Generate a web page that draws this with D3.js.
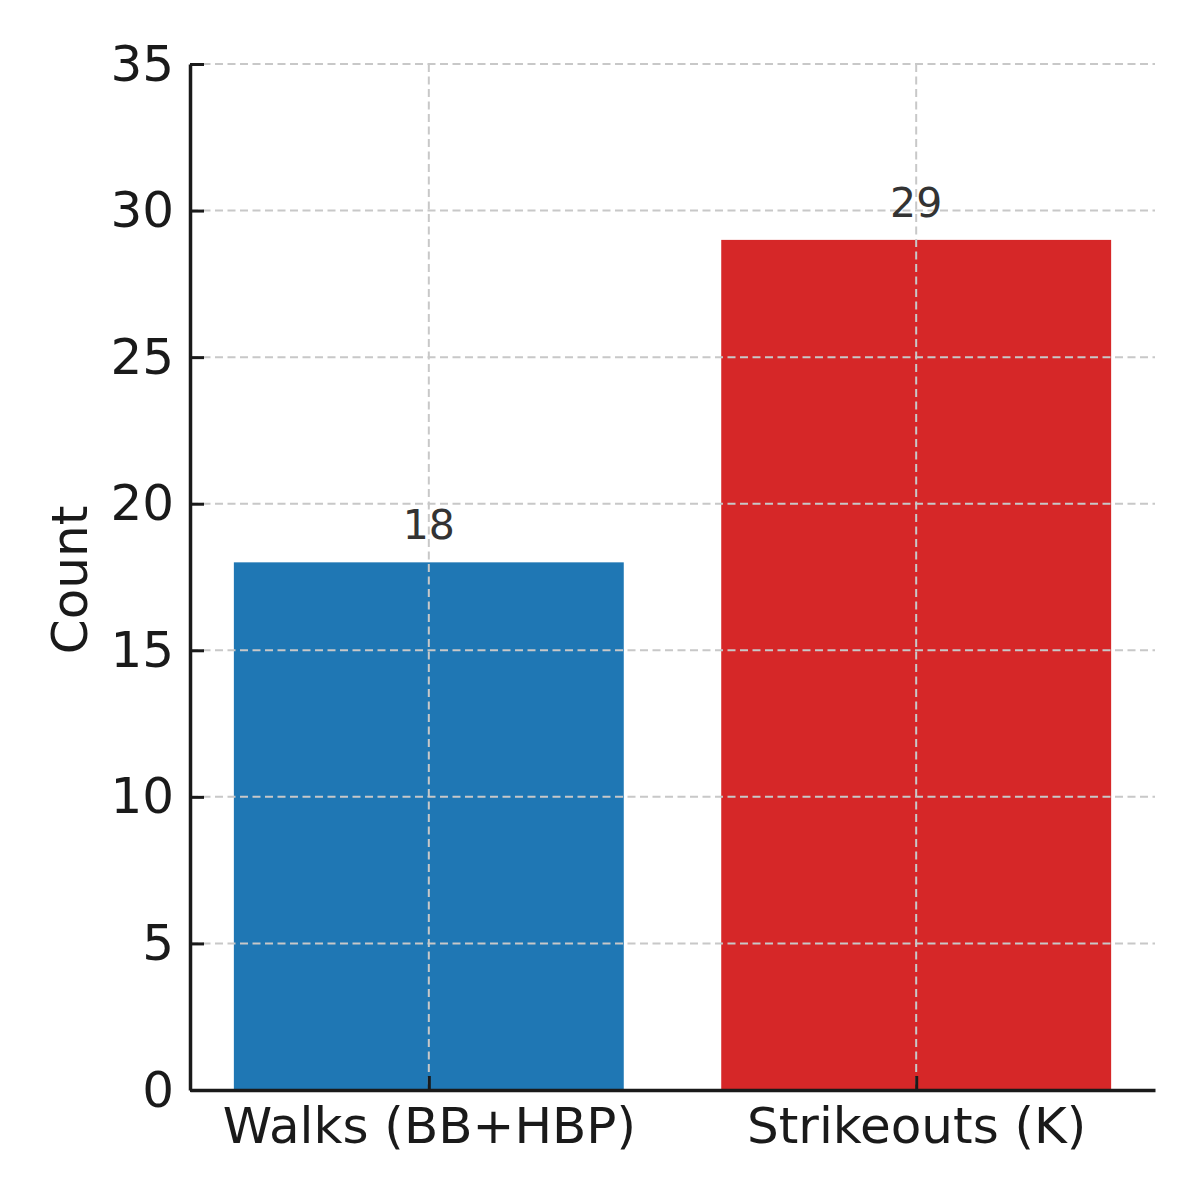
<!DOCTYPE html>
<html><head><meta charset="utf-8">
<script src="https://cdn.jsdelivr.net/npm/d3@7"></script>
<style>body{margin:0;background:#fff}svg{display:block}text{font-family:"DejaVu Sans",sans-serif}</style>
</head><body>
<script>
const categories = ["Walks (BB+HBP)", "Strikeouts (K)"];
const values = [18, 29];
const barColors = ["#1f77b4", "#d62728"];
const yTicks = [0, 5, 10, 15, 20, 25, 30, 35];

const W = 1200, H = 1200;
const m = {left: 190, right: 45, top: 64, bottom: 110};
const svg = d3.select("body").append("svg").attr("width", W).attr("height", H);

const x = d3.scaleLinear().domain([-0.49, 1.49]).range([m.left, W - m.right]);
const y = d3.scaleLinear().domain([0, 35]).range([H - m.bottom, m.top]);
const barW = x(0.4) - x(-0.4);

// bars
svg.selectAll("rect.bar").data(values).join("rect")
  .attr("x", (d, i) => x(i) - barW / 2)
  .attr("y", d => y(d))
  .attr("width", barW)
  .attr("height", d => y(0) - y(d))
  .attr("fill", (d, i) => barColors[i]);

// grid
const grid = svg.append("g").attr("stroke", "#c8c8c8").attr("stroke-width", 2).attr("stroke-dasharray", "8,4.5");
grid.selectAll("line.h").data(yTicks).join("line")
  .attr("x1", m.left).attr("x2", W - m.right)
  .attr("y1", d => y(d)).attr("y2", d => y(d));
grid.selectAll("line.v").data(categories).join("line")
  .attr("x1", (d, i) => x(i)).attr("x2", (d, i) => x(i))
  .attr("y1", m.top).attr("y2", y(0));

// value labels
svg.selectAll("text.val").data(values).join("text")
  .attr("x", (d, i) => x(i)).attr("y", d => y(d) - 23)
  .attr("text-anchor", "middle").attr("font-size", 41).attr("fill", "#333")
  .text(d => d);

// y axis
const yAxis = d3.axisLeft(y).tickValues(yTicks).tickSizeInner(-14).tickSizeOuter(0).tickPadding(16);
const gy = svg.append("g").attr("transform", `translate(${m.left},0)`).call(yAxis);
gy.select(".domain").attr("stroke", "#1a1a1a").attr("stroke-width", 3.5);
gy.selectAll(".tick line").attr("stroke", "#1a1a1a").attr("stroke-width", 3);
gy.selectAll(".tick text").attr("font-size", 50).attr("fill", "#1a1a1a").attr("font-family", "DejaVu Sans");

// x axis
const xAxis = d3.axisBottom(x).tickValues([0, 1]).tickFormat(i => categories[i]).tickSizeInner(-14).tickSizeOuter(0).tickPadding(17);
const gx = svg.append("g").attr("transform", `translate(0,${y(0)})`).call(xAxis);
gx.select(".domain").attr("stroke", "#1a1a1a").attr("stroke-width", 3.5);
gx.selectAll(".tick line").attr("stroke", "#1a1a1a").attr("stroke-width", 3);
gx.selectAll(".tick text").attr("font-size", 50).attr("fill", "#1a1a1a").attr("font-family", "DejaVu Sans");

// y label
svg.append("text").attr("transform", `translate(87,${(y(0) + y(35)) / 2 + 3}) rotate(-90)`)
  .attr("text-anchor", "middle").attr("font-size", 50).attr("fill", "#1a1a1a").text("Count");
</script>
</body></html>
